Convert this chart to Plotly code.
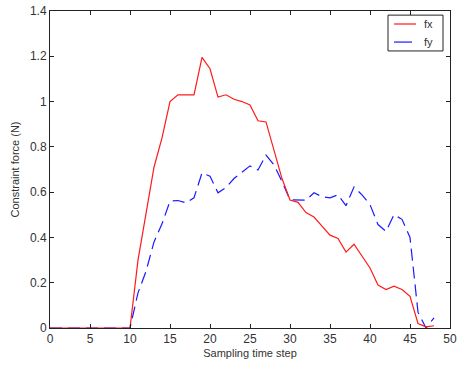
import plotly.graph_objects as go

steps = list(range(0, 49))
fx = [0,0,0,0,0,0,0,0,0,0,0,
      0.30,0.50,0.71,0.84,1.00,1.03,1.03,1.03,1.195,1.145,1.02,1.03,1.01,1.00,0.985,0.915,0.91,0.78,0.66,0.565,
      0.555,0.51,0.49,0.45,0.41,0.395,0.335,0.37,0.315,0.265,0.19,0.17,0.185,0.17,0.14,0.02,0.005,0.01]
fy = [0,0,0,0,0,0,0,0,0,0,0,
      0.155,0.25,0.38,0.46,0.56,0.563,0.553,0.575,0.685,0.67,0.597,0.62,0.66,0.69,0.716,0.698,0.764,0.72,0.647,0.566,
      0.565,0.565,0.597,0.58,0.575,0.588,0.54,0.623,0.588,0.545,0.457,0.427,0.50,0.48,0.40,0.07,0.0,0.045]

series_names = ["fx", "fy"]
series_colors = ["#ff1a1a", "#1a1aff"]

x_ticks = [0,5,10,15,20,25,30,35,40,45,50]
y_ticks = [0,0.2,0.4,0.6,0.8,1,1.2,1.4]
y_tick_text = ["0","0.2","0.4","0.6","0.8","1","1.2","1.4"]

font_family = "Liberation Sans, Arial, sans-serif"
blue_dash = "12px,6px"

fig = go.Figure()
fig.add_trace(go.Scatter(x=steps, y=fy, mode="lines", name=series_names[1],
                         line=dict(color=series_colors[1], width=1.2, dash=blue_dash)))
fig.add_trace(go.Scatter(x=steps, y=fx, mode="lines", name=series_names[0],
                         line=dict(color=series_colors[0], width=1.2)))

axis_common = dict(
    showgrid=False, zeroline=False, showline=True, linecolor="#222222", linewidth=1,
    mirror="ticks", ticks="inside", ticklen=4, tickcolor="#222222", automargin=False,
    tickfont=dict(family=font_family, size=12, color="#333333"),
)

# Manual MATLAB-style legend box (paper coordinates)
legend_box = dict(x0=0.845, x1=0.9825, y0=0.874, y1=0.987)
legend_rows_y = [0.959, 0.902]
legend_sample_x1 = [0.915, 0.905]
shapes = [dict(type="rect", xref="paper", yref="paper", **legend_box,
               line=dict(color="#222222", width=1), fillcolor="white", layer="above")]
annotations = []
for name, color, ry, sx1 in zip(series_names, series_colors, legend_rows_y, legend_sample_x1):
    shapes.append(dict(type="line", xref="paper", yref="paper", x0=0.86, x1=sx1, y0=ry, y1=ry,
                       line=dict(color=color, width=1.2), layer="above"))
    annotations.append(dict(xref="paper", yref="paper", x=0.93, y=ry, text=name, showarrow=False,
                            xanchor="left", yanchor="middle",
                            font=dict(size=11, family=font_family, color="#333333")))

fig.update_layout(
    width=459, height=366,
    margin=dict(l=50, r=9, t=11, b=38),
    paper_bgcolor="white", plot_bgcolor="white",
    font=dict(family=font_family, color="#333333"),
    xaxis=dict(range=[0, 50], tickvals=x_ticks, **axis_common,
               title=dict(text="Sampling time step", font=dict(size=11, family=font_family, color="#333333"), standoff=3)),
    yaxis=dict(range=[0, 1.4], tickvals=y_ticks, ticktext=y_tick_text, **axis_common,
               title=dict(text="Constraint force (N)", font=dict(size=11, family=font_family, color="#333333"), standoff=8)),
    showlegend=False,
    shapes=shapes,
    annotations=annotations,
)

fig.write_html("out.html", config={"displayModeBar": False},
               post_script="document.body.style.margin='0';")
